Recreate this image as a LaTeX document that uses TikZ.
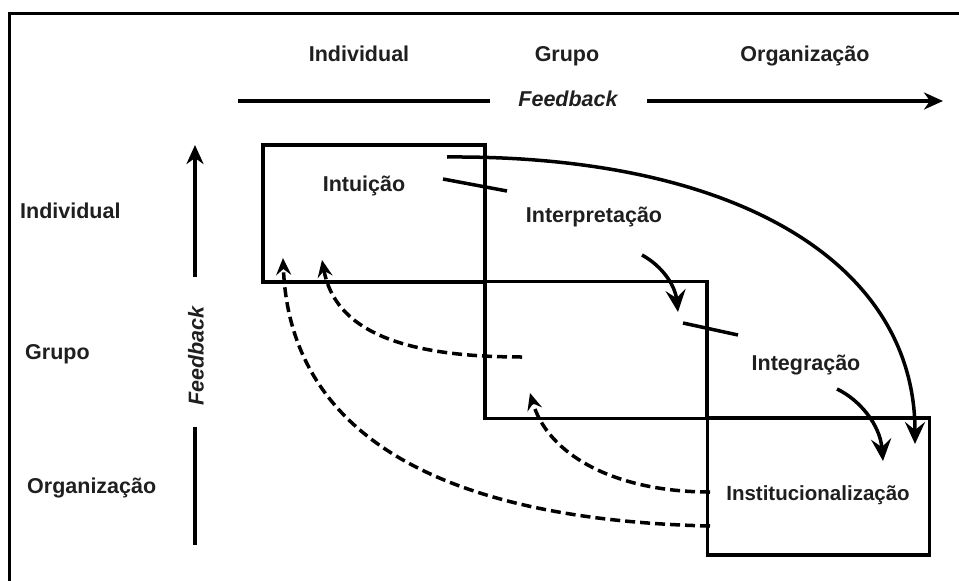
\documentclass[tikz,border=0pt]{standalone}
\usepackage{fontspec}
\setmainfont{Liberation Sans}
\usetikzlibrary{arrows.meta}
\begin{document}
\begin{tikzpicture}[x=1pt,y=-1pt,
  lbl/.style={font=\fontsize{21.5}{25}\selectfont\bfseries, text=black!88, inner sep=0pt},
  fb/.style={font=\fontsize{21.5}{25}\selectfont\bfseries\itshape, text=black!88, inner sep=0pt},
  stage/.style={draw, line width=3.5pt, minimum width=222pt, minimum height=137pt, inner sep=0pt},
  axis/.style={line width=3.5pt},
  axisarrow/.style={line width=3.5pt, -{Stealth[length=19pt,width=17pt,inset=6pt]}},
  flow/.style={line width=3.5pt, -{Stealth[length=22pt,width=20pt,inset=8pt]}},
  back/.style={line width=3.5pt, dash pattern=on 10pt off 5pt, -{Stealth[length=17pt,width=15pt,inset=6pt]}},
  crossbar/.style={line width=3.5pt}
]
\useasboundingbox (0,0) rectangle (959,581);
% outer frame (runs off the right and bottom edges)
\draw[line width=3pt] (9,600) -- (9,13) -- (975,13);

% column headers
\node[lbl, anchor=base] (hInd) at (359,61) {Individual};
\node[lbl, anchor=base] (hGru) at (567,61) {Grupo};
\node[lbl, anchor=base] (hOrg) at (805,61) {Organização};

% horizontal feedback axis
\node[fb, anchor=base] (fbH) at (568,106) {Feedback};
\coordinate (hStart) at (238,101);
\coordinate (hGap1) at (490,101);
\coordinate (hGap2) at (647,101);
\coordinate (hEnd) at (943,101);
\draw[axis] (hStart) -- (hGap1);
\draw[axisarrow] (hGap2) -- (hEnd);

% row labels
\node[lbl, anchor=base west] (rInd) at (20,218) {Individual};
\node[lbl, anchor=base west] (rGru) at (25,359) {Grupo};
\node[lbl, anchor=base west] (rOrg) at (27,493) {Organização};

% vertical feedback axis
\node[fb, rotate=90] (fbV) at (196,356) {Feedback};
\coordinate (vTop) at (195,145);
\coordinate (vGap1) at (195,277);
\coordinate (vGap2) at (195,427);
\coordinate (vBot) at (195,545);
\draw[axisarrow] (vGap1) -- (vTop);
\draw[axis] (vGap2) -- (vBot);

% the three stages
\node[stage] (b1) at (374,213.5) {};
\node[stage] (b2) at (596,350) {};
\node[stage] (b3) at (818.5,486.5) {};

\node[lbl, anchor=base] (intu) at (364,191) {Intuição};
\node[lbl, anchor=base] (inte) at (594,222) {Interpretação};
\node[lbl, anchor=base] (integ) at (806,370) {Integração};
\node[lbl, anchor=base, font=\fontsize{20.5}{24}\selectfont\bfseries] (inst) at (818,500) {Institucionalização};

% short bars crossing the box edges
\coordinate (x1a) at (443,179);
\coordinate (x1b) at (507,191);
\draw[crossbar] (x1a) -- (x1b);
\coordinate (x2a) at (683,323);
\coordinate (x2b) at (738,335);
\draw[crossbar] (x2a) -- (x2b);

% forward flows
\coordinate (f0s) at (447,157);
\coordinate (f0e) at (915,444);
\draw[flow] (f0s) .. controls (740,155) and (915,265) .. (f0e);
\coordinate (f1s) at (642,255);
\coordinate (f1e) at (678,312);
\draw[flow] (f1s) .. controls (662,266) and (675,285) .. (f1e);
\coordinate (f2s) at (837,389);
\coordinate (f2e) at (883,461);
\draw[flow] (f2s) .. controls (860,400) and (880,425) .. (f2e);

% feedback flows (dashed)
\coordinate (d1s) at (522,357);
\coordinate (d1e) at (322,260);
\draw[back] (d1s) .. controls (400,357) and (335,330) .. (d1e);
\coordinate (d2s) at (710,492);
\coordinate (d2e) at (530,393);
\draw[back] (d2s) .. controls (615,492) and (548,455) .. (d2e);
\coordinate (d3s) at (710,526);
\coordinate (d3e) at (283,258);
\draw[back] (d3s) .. controls (450,520) and (290,440) .. (d3e);
\end{tikzpicture}
\end{document}
